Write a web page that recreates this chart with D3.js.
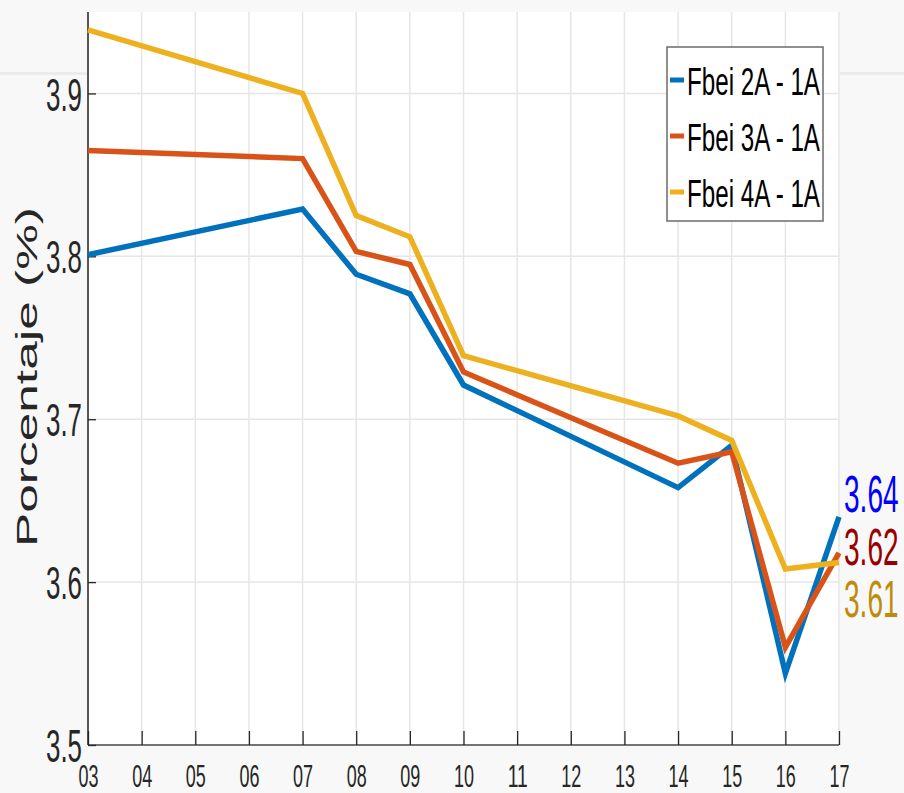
<!DOCTYPE html>
<html>
<head>
<meta charset="utf-8">
<script src="https://cdn.jsdelivr.net/npm/d3@7"></script>
<style>
  html, body { margin: 0; padding: 0; background: #f8f8f8; }
  svg { display: block; }
  text { font-family: "Liberation Sans", Arial, sans-serif; }
</style>
</head>
<body>
<svg id="chart" width="904" height="793"></svg>
<script>
// ---- data ----
const years = [3, 7, 8, 9, 10, 14, 15, 16, 17];
const xTicks = [3, 4, 5, 6, 7, 8, 9, 10, 11, 12, 13, 14, 15, 16, 17];
const yTicks = [3.5, 3.6, 3.7, 3.8, 3.9];
const fbei2A = [3.801, 3.829, 3.789, 3.777, 3.721, 3.658, 3.684, 3.544, 3.640];
const fbei3A = [3.865, 3.860, 3.803, 3.795, 3.729, 3.673, 3.680, 3.560, 3.618];
const fbei4A = [3.939, 3.900, 3.825, 3.812, 3.739, 3.702, 3.687, 3.608, 3.612];
const seriesNames = ["Fbei 2A - 1A", "Fbei 3A - 1A", "Fbei 4A - 1A"];
const seriesColors = ["#0072BD", "#D95319", "#EDB120"];
const endLabels = ["3.64", "3.62", "3.61"];
const endLabelColors = ["#0000ff", "#990000", "#bf8b0b"];
const yLabel = "Porcentaje (%)";

const series = [fbei2A, fbei3A, fbei4A].map((vals, i) => ({
  name: seriesNames[i], color: seriesColors[i],
  values: years.map((y, j) => ({ x: y, v: vals[j] }))
}));

const svg = d3.select("#chart");
const L = 88, R = 839, T = 12, B = 745;

const x = d3.scaleLinear().domain([3, 17]).range([L, R]);
const y = d3.scaleLinear().domain([3.5, 3.95]).range([B, T]);

// artefact band
svg.append("rect").attr("x", 0).attr("y", 72).attr("width", 904).attr("height", 3).attr("fill", "#ececec");

// plot background
svg.append("rect").attr("x", L).attr("y", T).attr("width", R - L).attr("height", B - T).attr("fill", "#ffffff");

// grid
const grid = svg.append("g");
grid.selectAll("line.v").data(xTicks).join("line")
  .attr("x1", d => x(d)).attr("x2", d => x(d)).attr("y1", T).attr("y2", B)
  .attr("stroke", "#e6e6e6").attr("stroke-width", 1.5);
grid.selectAll("line.h").data(yTicks).join("line")
  .attr("x1", L).attr("x2", R).attr("y1", d => y(d)).attr("y2", d => y(d))
  .attr("stroke", "#e6e6e6").attr("stroke-width", 1.5);

// axes
const xAxis = svg.append("g").attr("transform", `translate(0,${B})`)
  .call(d3.axisTop(x).tickValues(xTicks).tickSize(14).tickFormat(d3.format("02d")));
xAxis.select(".domain").attr("stroke", "#4d4d4d").attr("stroke-width", 1.5).attr("d", `M${L},0H${R}`);
xAxis.selectAll(".tick line").attr("stroke", "#262626").attr("stroke-width", 1.3);
xAxis.selectAll(".tick text")
  .attr("y", 42).attr("dy", null)
  .attr("font-size", 32).attr("fill", "#262626")
  .attr("font-family", "'Liberation Sans', Arial, sans-serif")
  .attr("textLength", 20).attr("lengthAdjust", "spacingAndGlyphs")
  .attr("text-anchor", "middle");

const yAxis = svg.append("g").attr("transform", `translate(${L},0)`)
  .call(d3.axisRight(y).tickValues(yTicks).tickSize(8).tickFormat(d3.format(".1f")));
yAxis.select(".domain").attr("stroke", "#262626").attr("stroke-width", 1.5).attr("d", `M0,${T}V${B}`);
yAxis.selectAll(".tick line").attr("stroke", "#262626").attr("stroke-width", 1.3);
yAxis.selectAll(".tick text")
  .attr("x", -6).attr("dy", "0.36em")
  .attr("text-anchor", "end")
  .attr("font-size", 46).attr("fill", "#262626")
  .attr("font-family", "'Liberation Sans', Arial, sans-serif")
  .attr("textLength", 36).attr("lengthAdjust", "spacingAndGlyphs");

// y label
svg.append("text")
  .attr("transform", `translate(37,377) rotate(-90)`)
  .attr("text-anchor", "middle")
  .attr("font-size", 29).attr("fill", "#262626")
  .attr("textLength", 340).attr("lengthAdjust", "spacingAndGlyphs")
  .text(yLabel);

// lines
const line = d3.line().x(d => x(d.x)).y(d => y(d.v));
svg.append("g").selectAll("path").data(series).join("path")
  .attr("d", d => line(d.values))
  .attr("fill", "none").attr("stroke", d => d.color)
  .attr("stroke-width", 5.5).attr("stroke-linejoin", "miter");

// end labels (narrow via horizontal scaling)
const endY = [512, 565, 617];
svg.append("g").selectAll("text").data(endLabels).join("text")
  .attr("transform", (d, i) => `translate(844,${endY[i]}) scale(0.55,1)`)
  .attr("font-size", 51).attr("fill", (d, i) => endLabelColors[i])
  .text(d => d);

// legend
const lg = svg.append("g");
lg.append("rect").attr("x", 667).attr("y", 47).attr("width", 156).attr("height", 174)
  .attr("fill", "#ffffff").attr("stroke", "#6b6b6b").attr("stroke-width", 1.5);
const items = lg.selectAll("g.item").data(series).join("g")
  .attr("transform", (d, i) => `translate(0,${95 + i * 56})`);
items.append("line").attr("x1", 670).attr("x2", 684).attr("y1", -15).attr("y2", -15)
  .attr("stroke", d => d.color).attr("stroke-width", 5);
items.append("text").attr("x", 687).attr("y", 0)
  .attr("font-size", 39).attr("fill", "#000000")
  .attr("textLength", 133).attr("lengthAdjust", "spacingAndGlyphs")
  .text(d => d.name);
</script>
</body>
</html>
